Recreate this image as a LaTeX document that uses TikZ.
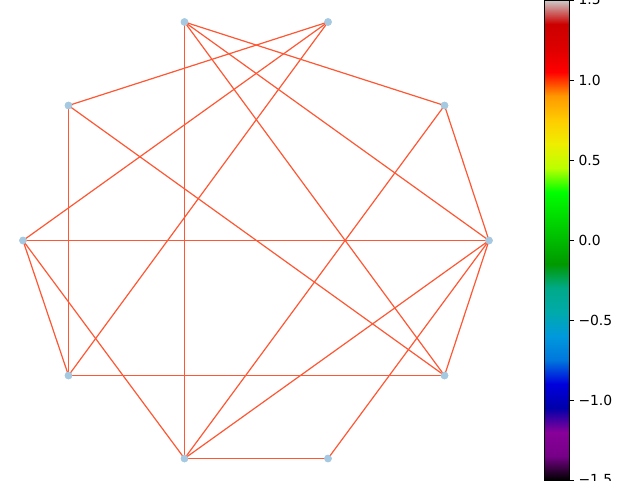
\documentclass[tikz,border=0pt]{standalone}
\usepackage{fontspec}
\setmainfont{DejaVu Sans}
\definecolor{edgecol}{RGB}{255,87,51}
\definecolor{nodecol}{RGB}{166,201,226}
\definecolor{ns0}{rgb}{0,0,0}
\definecolor{ns1}{rgb}{0.4667,0,0.5333}
\definecolor{ns2}{rgb}{0.5333,0,0.6}
\definecolor{ns3}{rgb}{0,0,0.6667}
\definecolor{ns4}{rgb}{0,0,0.8667}
\definecolor{ns5}{rgb}{0,0.4667,0.8667}
\definecolor{ns6}{rgb}{0,0.6,0.8667}
\definecolor{ns7}{rgb}{0,0.6667,0.6667}
\definecolor{ns8}{rgb}{0,0.6667,0.5333}
\definecolor{ns9}{rgb}{0,0.6,0}
\definecolor{ns10}{rgb}{0,0.7333,0}
\definecolor{ns11}{rgb}{0,0.8667,0}
\definecolor{ns12}{rgb}{0,1,0}
\definecolor{ns13}{rgb}{0.7333,1,0}
\definecolor{ns14}{rgb}{0.9333,0.9333,0}
\definecolor{ns15}{rgb}{1,0.8,0}
\definecolor{ns16}{rgb}{1,0.6,0}
\definecolor{ns17}{rgb}{1,0,0}
\definecolor{ns18}{rgb}{0.8667,0,0}
\definecolor{ns19}{rgb}{0.8,0,0}
\definecolor{ns20}{rgb}{0.8,0.8,0.8}
\pgfdeclareverticalshading{nipyspec}{100bp}{color(0bp)=(ns0); color(25bp)=(ns0); color(27.5bp)=(ns1); color(30bp)=(ns2); color(32.5bp)=(ns3); color(35bp)=(ns4); color(37.5bp)=(ns5); color(40bp)=(ns6); color(42.5bp)=(ns7); color(45bp)=(ns8); color(47.5bp)=(ns9); color(50bp)=(ns10); color(52.5bp)=(ns11); color(55bp)=(ns12); color(57.5bp)=(ns13); color(60bp)=(ns14); color(62.5bp)=(ns15); color(65bp)=(ns16); color(67.5bp)=(ns17); color(70bp)=(ns18); color(72.5bp)=(ns19); color(75bp)=(ns20); color(100bp)=(ns20)}
\tikzset{
  vtx/.style={circle, fill=nodecol, draw=none, minimum size=7.5pt, inner sep=0pt},
  edg/.style={draw=edgecol, line width=1.2pt},
  ticklab/.style={anchor=west, inner sep=0pt, font=\fontsize{13.9}{16}\selectfont}
}
\begin{document}
\begin{tikzpicture}[x=1pt,y=-1pt]
\useasboundingbox (0,0) rectangle (640,480);
\clip (0,0) rectangle (640,480);
\fill[white] (0,0) rectangle (640,480);
% nodes
\node[vtx] (D) at (489,240.5) {};
\node[vtx] (C) at (444.5,105.5) {};
\node[vtx] (B) at (328,22) {};
\node[vtx] (A) at (184.5,22) {};
\node[vtx] (J) at (68.5,105.5) {};
\node[vtx] (I) at (23,240.5) {};
\node[vtx] (H) at (68.5,375.5) {};
\node[vtx] (G) at (184.5,458.5) {};
\node[vtx] (F) at (328,458.5) {};
\node[vtx] (E) at (444.5,375.5) {};
% edges
\foreach \u/\v in {A/G,A/C,A/D,A/E,B/J,B/I,B/H,C/D,C/G,D/I,D/G,D/F,D/E,E/J,E/H,H/J,I/H,I/G,G/F}
  \draw[edg] (\u.center) -- (\v.center);
% nodes drawn on top
\foreach \n in {A,B,C,D,E,F,G,H,I,J}
  \fill[nodecol] (\n.center) circle (3.8);
% colorbar
\shade[shading=nipyspec] (544,0) rectangle (569,480);
\draw[black, line width=1pt] (544,0) rectangle (569,480);
\foreach \yy/\lab in {0/1.5,80/1.0,160/0.5,240/0.0,320/{−0.5},400/{−1.0},480/{−1.5}} {
  \coordinate (t\yy) at (569,\yy);
  \draw[black, line width=1pt] (t\yy) -- ++(5,0) node[ticklab, xshift=4pt] (l\yy) {\lab};
}
\end{tikzpicture}
\end{document}
